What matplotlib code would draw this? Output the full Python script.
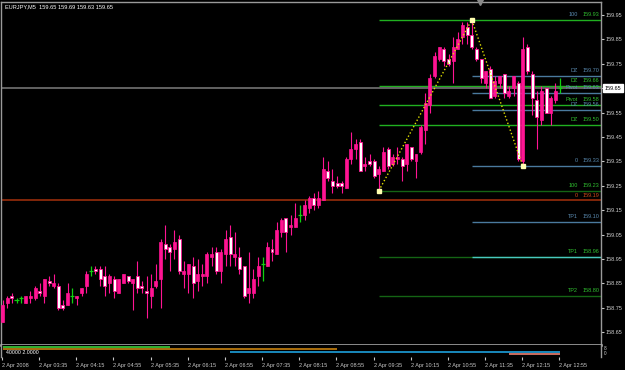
import matplotlib
matplotlib.use('Agg')
import matplotlib.pyplot as plt
from matplotlib.patches import Rectangle
from matplotlib.transforms import blended_transform_factory

plt.rcParams['font.family'] = ['Liberation Sans', 'DejaVu Sans']

# ---------------- data ----------------
symbol = "EURJPY,M5"
header_vals = [159.65, 159.69, 159.63, 159.65]

opens = [158.69, 158.77, 158.80, 158.78, 158.79, 158.77, 158.79, 158.79, 158.82, 158.80,
         158.86, 158.84, 158.84, 158.76, 158.76, 158.80, 158.79, 158.81, 158.84, 158.90,
         158.91, 158.91, 158.88, 158.85, 158.87, 158.81, 158.85, 158.88, 158.85, 158.88,
         158.84, 158.82, 158.80, 158.84, 158.87, 159.01, 159.00, 158.99, 159.03, 158.89,
         158.89, 158.92, 158.86, 158.88, 158.88, 158.96, 158.98, 158.90, 158.97, 159.04,
         158.96, 158.96, 158.92, 158.81, 158.81, 158.88, 158.93, 158.92, 158.99, 158.97,
         159.06, 159.12, 159.08, 159.08, 159.13, 159.13, 159.16, 159.20, 159.17, 159.19,
         159.31, 159.27, 159.26, 159.26, 159.24, 159.36, 159.40, 159.43, 159.33, 159.35,
         159.35, 159.30, 159.31, 159.40, 159.34, 159.36, 159.36, 159.34, 159.41, 159.35,
         159.39, 159.48, 159.58, 159.70, 159.77, 159.81, 159.77, 159.76, 159.81, 159.86,
         159.90, 159.87, 159.81, 159.77, 159.67, 159.73, 159.62, 159.67, 159.71, 159.62,
         159.65, 159.67, 159.35, 159.82, 159.71, 159.60, 159.52, 159.65, 159.55, 159.60,
         159.65]
highs = [158.78, 158.80, 158.81, 158.79, 158.80, 158.80, 158.82, 158.84, 158.85, 158.87,
         158.88, 158.89, 158.85, 158.78, 158.85, 158.83, 158.80, 158.83, 158.90, 158.92,
         158.92, 158.92, 158.92, 158.89, 158.88, 158.87, 158.89, 158.88, 158.87, 158.94,
         158.86, 158.88, 158.89, 158.93, 159.03, 159.09, 159.01, 159.07, 159.05, 158.94,
         158.93, 158.96, 158.95, 158.93, 158.98, 159.00, 159.00, 158.99, 159.07, 159.09,
         159.06, 159.00, 158.92, 158.98, 158.91, 158.96, 158.96, 159.02, 159.03, 159.10,
         159.12, 159.12, 159.13, 159.18, 159.17, 159.19, 159.21, 159.22, 159.23, 159.37,
         159.35, 159.32, 159.29, 159.27, 159.37, 159.47, 159.44, 159.44, 159.37, 159.38,
         159.36, 159.33, 159.41, 159.41, 159.38, 159.41, 159.37, 159.42, 159.41, 159.38,
         159.50, 159.63, 159.71, 159.80, 159.82, 159.82, 159.79, 159.86, 159.88, 159.92,
         159.92, 159.93, 159.82, 159.77, 159.72, 159.74, 159.70, 159.70, 159.71, 159.66,
         159.70, 159.68, 159.86, 159.83, 159.72, 159.64, 159.66, 159.65, 159.62, 159.67,
         159.69]
lows = [158.69, 158.75, 158.77, 158.77, 158.77, 158.77, 158.77, 158.78, 158.80, 158.77,
        158.84, 158.83, 158.74, 158.74, 158.76, 158.77, 158.76, 158.80, 158.81, 158.88,
        158.89, 158.84, 158.80, 158.81, 158.79, 158.81, 158.85, 158.85, 158.74, 158.81,
        158.81, 158.71, 158.75, 158.83, 158.75, 158.95, 158.90, 158.95, 158.89, 158.83,
        158.81, 158.79, 158.82, 158.84, 158.85, 158.92, 158.89, 158.85, 158.92, 158.92,
        158.92, 158.89, 158.79, 158.77, 158.79, 158.84, 158.86, 158.92, 158.94, 158.97,
        159.04, 158.98, 159.05, 159.08, 159.10, 159.11, 159.14, 159.15, 159.16, 159.19,
        159.27, 159.22, 159.24, 159.22, 159.24, 159.34, 159.36, 159.31, 159.31, 159.33,
        159.28, 159.23, 159.31, 159.32, 159.33, 159.34, 159.27, 159.31, 159.35, 159.28,
        159.38, 159.42, 159.55, 159.69, 159.76, 159.74, 159.74, 159.67, 159.81, 159.83,
        159.83, 159.81, 159.76, 159.67, 159.65, 159.61, 159.61, 159.65, 159.61, 159.61,
        159.62, 159.35, 159.33, 159.71, 159.54, 159.40, 159.50, 159.55, 159.50, 159.59,
        159.63]
closes = [158.76, 158.79, 158.79, 158.78, 158.79, 158.80, 158.80, 158.83, 158.81, 158.87,
          158.85, 158.85, 158.75, 158.75, 158.81, 158.80, 158.80, 158.83, 158.89, 158.90,
          158.90, 158.87, 158.84, 158.88, 158.82, 158.87, 158.89, 158.86, 158.87, 158.83,
          158.83, 158.81, 158.83, 158.86, 159.02, 158.99, 158.98, 159.02, 158.90, 158.90,
          158.93, 158.85, 158.89, 158.89, 158.97, 158.97, 158.90, 158.98, 159.03, 158.97,
          158.97, 158.91, 158.80, 158.83, 158.87, 158.92, 158.93, 159.00, 158.98, 159.07,
          159.11, 159.06, 159.09, 159.12, 159.13, 159.17, 159.20, 159.17, 159.20, 159.32,
          159.28, 159.25, 159.25, 159.25, 159.36, 159.40, 159.42, 159.31, 159.34, 159.34,
          159.29, 159.32, 159.39, 159.33, 159.37, 159.37, 159.33, 159.42, 159.36, 159.38,
          159.49, 159.59, 159.69, 159.78, 159.82, 159.76, 159.75, 159.82, 159.85, 159.91,
          159.87, 159.82, 159.77, 159.69, 159.72, 159.61, 159.68, 159.70, 159.63, 159.64,
          159.70, 159.36, 159.81, 159.72, 159.61, 159.53, 159.64, 159.55, 159.61, 159.64,
          159.65]

# zigzag pivots (bar index, price)
zz_bars = [81, 101, 112]
zz_prices = [159.23, 159.93, 159.33]

# fibo level sets: (price, name)
green_start = 81
green_levels = [(159.93, "100"), (159.66, "DZ"), (159.58, "Pivot"), (159.50, "DZ"),
                (159.23, "100"), (158.96, "TP1"), (158.80, "TP2")]
blue_start = 101
blue_levels = [(159.70, "DZ"), (159.63, "Pivot"), (159.56, "DZ"), (159.33, "0"),
               (159.10, "TP1")]
cyan_level = 158.96
red_level = (159.19, "0")
bid = 159.65

price_ticks = [158.65, 158.75, 158.85, 158.95, 159.05, 159.15, 159.25, 159.35,
               159.45, 159.55, 159.65, 159.75, 159.85, 159.95]
time_labels = ["2 Apr 2008", "2 Apr 03:35", "2 Apr 04:15", "2 Apr 04:55", "2 Apr 05:35",
               "2 Apr 06:15", "2 Apr 06:55", "2 Apr 07:35", "2 Apr 08:15", "2 Apr 08:55",
               "2 Apr 09:35", "2 Apr 10:15", "2 Apr 10:55", "2 Apr 11:35", "2 Apr 12:15",
               "2 Apr 12:55"]
time_label_bars = [0, 8, 16, 24, 32, 40, 48, 56, 64, 72, 80, 88, 96, 104, 112, 120]

# indicator sub-window segments: (start bar, end bar, level, colour)
ind_segments = [(0, 36, 10.3, '#3CD23C'), (0, 72, 7.6, '#C8820F'),
                (49, 120, 4.9, '#1EA0DC'), (109, 120, 2.8, '#F08070')]
ind_text = "40000 2.0000"
ind_scale = [("8", 8.5), ("0", 3.5)]

# ---------------- drawing ----------------
W, H = 625, 370
fig = plt.figure(figsize=(6.25, 3.7), dpi=100, facecolor='black')

def box(l, t, r, b):
    return [l / W, 1 - b / H, (r - l) / W, (b - t) / H]

ax = fig.add_axes(box(1.5, 2, 601, 345))
sub = fig.add_axes(box(1.5, 345, 601, 357))
for a in (ax, sub):
    a.set_facecolor('black')

x0, dx = 2.6, 4.645
def px2bar(px):
    return (px - x0) / dx

ax.set_xlim(px2bar(1.5), px2bar(601))
ax.set_ylim(159.95 - (345 - 15) / 244, 159.95 + 13 / 244)
sub.set_xlim(px2bar(1.5), px2bar(601))
sub.set_ylim(0, 12)

PINK = '#FF1493'
GREEN_DOJI = '#10D010'
body_w = 0.64

GREEN = '#20B020'
DKGREEN = '#146414'
BLUE = '#4A7A9E'
LBLUE = '#5A8AB0'
LGREEN = '#30C030'
xr = ax.get_xlim()[1]
for p, name in green_levels:
    col = GREEN if p > 159.4 else DKGREEN
    ax.hlines(p, green_start, xr, color=col, lw=1.0, zorder=1)
for p, name in blue_levels:
    ax.hlines(p, blue_start, xr, color=BLUE, lw=1.0, zorder=1)
ax.hlines(cyan_level, blue_start, xr, color='#48C8C0', lw=1.0, zorder=1)
ax.axhline(red_level[0], color='#8C2A0A', lw=1.3, zorder=1)
ax.axhline(bid, color='#6A6A6A', lw=1.3, zorder=1)

# candles
for i, (o, h, l, c) in enumerate(zip(opens, highs, lows, closes)):
    if abs(c - o) < 1e-9:
        ax.vlines(i, l, h, color=GREEN_DOJI, lw=0.9, zorder=3)
        ax.hlines(c, i - 0.45, i + 0.45, color=GREEN_DOJI, lw=0.9, zorder=3)
        continue
    ax.vlines(i, l, h, color=PINK, lw=0.8, zorder=2)
    bot = min(o, c)
    hgt = abs(c - o)
    if c > o:
        ax.add_patch(Rectangle((i - body_w / 2, bot), body_w, hgt, facecolor=PINK,
                               edgecolor=PINK, lw=0.5, zorder=3))
    else:
        ax.add_patch(Rectangle((i - body_w / 2, bot), body_w, hgt, facecolor='white',
                               edgecolor=PINK, lw=0.6, zorder=3))

# zigzag
ax.plot(zz_bars, zz_prices, color='#E0E000', lw=1.0, ls=(0, (1, 1.6)), zorder=4)
ax.plot(zz_bars, zz_prices, ls='none', marker='s', ms=2.2, mfc='#FFFFB0', mec='#FFFFB0',
        zorder=5)

# level labels
tr = blended_transform_factory(ax.transAxes, ax.transData)
def axfrac(px):
    return (px - 1.5) / (601 - 1.5)
lab_fs = 4.0
off = 0.012
def level_label(p, name, ncol, vcol):
    ax.text(axfrac(578), p + off, name, transform=tr, ha='right', va='bottom',
            color=ncol, fontsize=lab_fs, zorder=6)
    ax.text(axfrac(599.5), p + off, f"{p:.2f}", transform=tr, ha='right', va='bottom',
            color=vcol, fontsize=lab_fs, zorder=6)
for p, name in green_levels:
    level_label(p, name, LBLUE if (name == "100" and p > 159.9) else LGREEN, LGREEN)
for p, name in blue_levels:
    level_label(p, name, LBLUE, LBLUE)
level_label(red_level[0], red_level[1], '#D04A1A', '#D04A1A')

# axes styling
for a in (ax, sub):
    for s in a.spines.values():
        s.set_color('#9A9A9A')
        s.set_linewidth(1.0)
ax.spines['bottom'].set_linewidth(1.8)
ax.spines['bottom'].set_color('#B4B4B4')
sub.spines['top'].set_visible(False)
sub.spines['bottom'].set_visible(False)

ax.yaxis.tick_right()
ax.set_yticks(price_ticks)
ax.set_yticklabels(["" if abs(v - bid) < 1e-9 else f"{v:.2f}" for v in price_ticks])
ax.tick_params(axis='y', colors='#C8C8C8', labelsize=4.0, length=2, width=0.8, pad=1.5,
               labelcolor='#D0D0D0')
ax.set_xticks([])

# current price box
ax.text(1.0 + 3.5 / 599.5, bid, f"{bid:.2f}", transform=tr, ha='left', va='center',
        color='black', fontsize=4.0, zorder=7,
        bbox=dict(boxstyle='square,pad=0.3', fc='white', ec='white'))

# chart shift marker
ax.plot([px2bar(480)], [ax.get_ylim()[1]], marker='v', ms=4, color='#8A8A8A',
        clip_on=False, zorder=8)

# header
fig.text(5 / W, 1 - 7 / H, f"{symbol}  " + " ".join(f"{v:.2f}" for v in header_vals),
         color='white', fontsize=4.1, va='center', ha='left')

# sub window
str_ = blended_transform_factory(sub.transAxes, sub.transData)
for s0, s1, lv, col in ind_segments:
    sub.hlines(lv, s0, s1, color=col, lw=1.2)
sub.text(5 / 599.5, 4.5, ind_text, transform=str_, color='white', fontsize=3.8,
         va='center', ha='left')
sub.set_yticks([])
for t, lv in ind_scale:
    sub.text(1.0 + 3 / 599.5, lv, t, transform=str_, color='#D0D0D0', fontsize=3.4,
             va='center', ha='left')

sub.set_xticks([b - 0.15 for b in time_label_bars])
sub.set_xticklabels(time_labels)
sub.tick_params(axis='x', colors='#C8C8C8', labelsize=4.0, length=2.5, width=0.8,
                pad=1.5, direction='out')
for lbl in sub.get_xticklabels():
    lbl.set_horizontalalignment('left')

fig.savefig('out.png', dpi=100, facecolor='black')
